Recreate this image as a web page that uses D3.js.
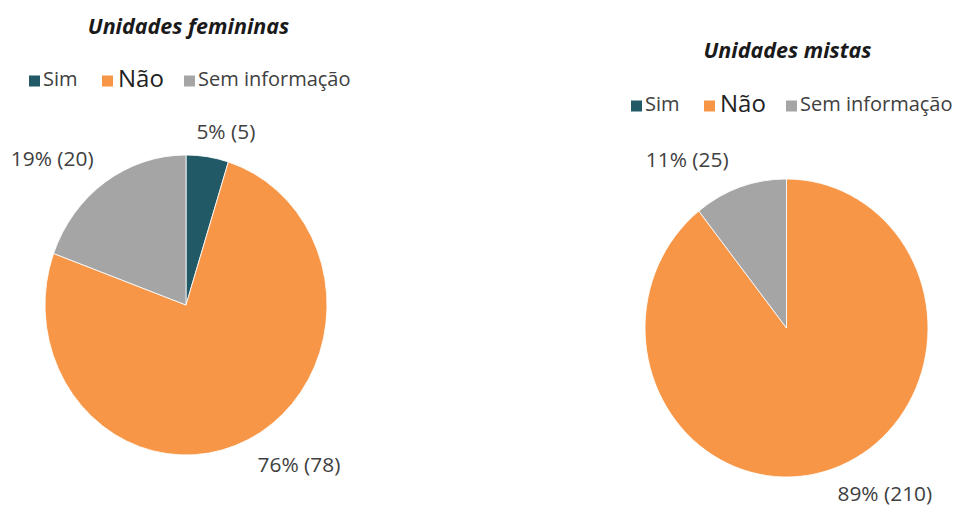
<!DOCTYPE html>
<html><head><meta charset="utf-8">
<script src="https://cdn.jsdelivr.net/npm/d3@7"></script>
<style>body{margin:0;background:#fff}svg{display:block}</style>
</head><body>
<svg id="c" width="955" height="507"></svg>
<script>
const categories = ["Sim", "Não", "Sem informação"];
const femininasValues = [5, 78, 20];
const mistasValues = [0, 210, 25];
const femininasLabels = ["5% (5)", "76% (78)", "19% (20)"];
const mistasLabels = ["", "89% (210)", "11% (25)"];
const titles = ["Unidades femininas", "Unidades mistas"];

const colors = d3.scaleOrdinal().domain(categories).range(["#215967", "#f79646", "#a5a5a5"]);
const svg = d3.select("#c");
const font = "'Open Sans', sans-serif";
const textColor = "#404040";

const charts = [
  {title: titles[0], values: femininasValues, labels: femininasLabels, cx: 186, cy: 305, r: 141, sy: 150/141, tx: 188.5, ty: 28, ly: 81, lx: 29,
   nudges: [[11, 16], [29, -9], [-25, 11]]},
  {title: titles[1], values: mistasValues, labels: mistasLabels, cx: 786.5, cy: 328, r: 141.5, sy: 149/141.5, tx: 787.5, ty: 52, ly: 106, lx: 631,
   nudges: [[0, 0], [36, -12], [-37, 13]]}
];

const pie = d3.pie().sort(null).value(d => d.v);

charts.forEach(ch => {
  const g = svg.append("g").attr("transform", `translate(${ch.cx},${ch.cy})`);
  const data = pie(categories.map((c, i) => ({c, v: ch.values[i], label: ch.labels[i], nudge: ch.nudges[i]})));
  const arc = d3.arc().innerRadius(0).outerRadius(ch.r);
  const labelArc = d3.arc().innerRadius(190).outerRadius(190);
  g.append("g").attr("transform", `scale(1,${ch.sy})`)
    .selectAll("path").data(data).join("path")
    .attr("d", arc).attr("fill", d => colors(d.data.c))
    .attr("stroke", "#fff").attr("stroke-width", d => d.data.v > 0 ? 0.8 : 0);
  g.selectAll("text.lbl").data(data.filter(d => d.data.v > 0)).join("text")
    .attr("class", "lbl")
    .attr("x", d => labelArc.centroid(d)[0] + d.data.nudge[0])
    .attr("y", d => labelArc.centroid(d)[1] + d.data.nudge[1])
    .attr("text-anchor", "middle").attr("dominant-baseline", "middle")
    .attr("font-family", font).attr("font-size", 20.5).attr("fill", textColor)
    .attr("transform", d => {
      const x = labelArc.centroid(d)[0] + d.data.nudge[0], y = labelArc.centroid(d)[1] + d.data.nudge[1];
      return `translate(${x},${y}) scale(1.02,1) translate(${-x},${-y})`;
    })
    .text(d => d.data.label);

  svg.append("text").attr("x", ch.tx).attr("y", ch.ty)
    .attr("text-anchor", "middle").attr("dominant-baseline", "middle")
    .attr("font-family", font).attr("font-size", 21.5).attr("font-weight", "bold").attr("font-style", "italic")
    .attr("fill", "#1a1a1a")
    .text(ch.title);

  const lg = svg.append("g").attr("transform", `translate(${ch.lx},${ch.ly})`);
  const offsets = [0, 73, 155];
  categories.forEach((c, i) => {
    const item = lg.append("g").attr("transform", `translate(${offsets[i]},0)`);
    item.append("rect").attr("x", 0).attr("y", -5.5).attr("width", 11).attr("height", 11).attr("fill", colors(c));
    item.append("text").attr("x", i === 1 ? 16 : 14).attr("y", 0).attr("dominant-baseline", "middle")
      .attr("font-family", font).attr("font-size", i === 1 ? 24 : 20)
      .attr("fill", i === 1 ? "#222" : textColor)
      .text(c);
  });
});
</script>
</body></html>
